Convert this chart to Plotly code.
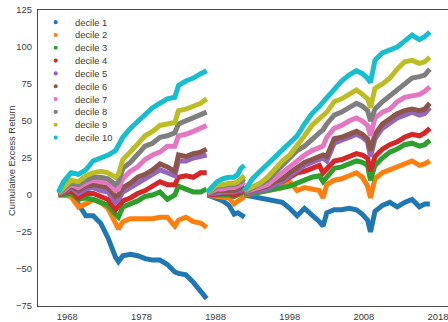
import plotly.graph_objects as go

# Three sample periods; cumulative excess return restarts at zero in each one.
years_a = [1966.8, 1967.5, 1968.5, 1969.5, 1970.5, 1971.5, 1972.5, 1973.5, 1974.5, 1974.9,
           1975.5, 1976.5, 1977.5, 1978.5, 1979.5, 1980.5, 1981.5, 1982.5, 1983.0, 1984.0,
           1985.0, 1986.0, 1986.8]
years_b = [1986.9, 1987.5, 1988.2, 1989.0, 1989.8, 1990.5, 1991.0, 1991.4, 1991.9]
years_c = [1991.9, 1993, 1994, 1995, 1996, 1997, 1998, 1999, 2000, 2001, 2002, 2002.5,
           2003, 2004, 2005, 2006, 2007, 2007.8, 2008.5, 2008.9, 2009.5, 2010.5, 2011.5,
           2012.5, 2013.5, 2014.5, 2015.5, 2016.2, 2016.9]

# (period a, period b, period c) values for each decile
decile_1 = (
    [1, 1, 0, -6, -14, -14, -19, -29, -42, -45, -41, -40, -41, -43, -44, -44, -47, -52, -53, -54, -59, -65, -70],
    [0, -1, -2, -4, -7, -13, -12, -13, -15],
    [0, -1, -2, -3, -4, -5, -9, -14, -9, -13, -18, -21, -12, -10, -10, -9, -10, -13, -17, -25,
     -11, -7, -5, -8, -5, -3, -8, -6, -6],
)
decile_2 = (
    [0, 0, -1, -8, -6, -3, -5, -9, -19, -23, -18, -16, -16, -16, -16, -15, -15, -21, -17, -15, -18, -19, -22],
    [0, -0.5, -0.5, -1, -2, -6, -4, -2, -1],
    [0, 1, 2, 3, 4, 5, 9, 3, 5, 4, 3, -2, 7, 10, 11, 13, 15, 12, 6, -2,
     11, 15, 17, 19, 21, 23, 20, 21, 23],
)
decile_3 = (
    [0, 0, 1, -3, -2, -3, -5, -7, -13, -15, -8, -6, -4, -1, 0, 2, -3, 0, 6, 4, 2, 2, 4],
    [0, 0, 0.5, 0, 0, -1, 0, 1, 2],
    [0.5, 1, 2, 3, 4, 5, 6, 8, 10, 12, 13, 9, 12, 18, 19, 21, 23, 22, 20, 10,
     20, 25, 29, 31, 34, 35, 33, 34, 37],
)
decile_4 = (
    [0, 1, 3, -2, 1, 1, -1, -3, -10, -8, -4, -2, 1, 3, 6, 9, 7, 7, 12, 13, 12, 15, 15],
    [0, 0.5, 1, 1, 1, 0, 1, 2, 4],
    [1, 2, 3, 5, 7, 9, 12, 15, 16, 18, 20, 15, 18, 23, 24, 26, 28, 27, 25, 16,
     26, 31, 34, 36, 39, 41, 40, 42, 45],
)
decile_5 = (
    [0.5, 1.5, 5, 1, 4, 5, 3, 2, -5, -3, 2, 5, 8, 11, 14, 17, 15, 13, 23, 23, 25, 26, 27],
    [0.5, 1, 2, 2, 2, 2, 3, 3, 5],
    [1, 2, 3, 4, 7, 9, 13, 17, 20, 22, 24, 25, 23, 35, 37, 39, 41, 39, 36, 26,
     38, 45, 49, 52, 54, 56, 54, 55, 59],
)
decile_6 = (
    [0.5, 2, 6, 3, 6, 7, 6, 5, -1, 0, 5, 8, 12, 14, 17, 21, 19, 16, 27, 26, 28, 29, 31],
    [0.5, 1.5, 3, 3, 3, 3, 4, 5, 6],
    [1.5, 3, 4, 6, 9, 11, 15, 19, 22, 24, 26, 27, 26, 38, 39, 41, 43, 41, 38, 30,
     41, 48, 52, 55, 57, 58, 57, 58, 62],
)
decile_7 = (
    [1, 3, 7, 5, 8, 10, 9, 8, 3, 4, 11, 16, 19, 24, 27, 29, 33, 33, 40, 41, 43, 45, 47],
    [1, 2, 4, 4, 5, 5, 6, 7, 9],
    [2, 4, 5, 7, 11, 15, 20, 24, 27, 30, 32, 33, 39, 45, 47, 50, 52, 50, 47, 40,
     52, 56, 58, 63, 66, 67, 68, 70, 73],
)
decile_8 = (
    [1, 4, 8, 7, 10, 12, 12, 11, 7, 9, 18, 22, 27, 33, 35, 39, 40, 42, 48, 50, 52, 54, 56],
    [1, 3, 6, 6, 7, 7, 8, 9, 11],
    [2, 5, 7, 10, 15, 20, 25, 30, 33, 38, 42, 44, 48, 54, 56, 59, 62, 60, 57, 50,
     58, 63, 67, 72, 76, 79, 80, 81, 85],
)
decile_9 = (
    [1.5, 5, 10, 9, 13, 15, 16, 15, 12, 14, 24, 29, 34, 40, 43, 47, 48, 49, 57, 58, 60, 62, 65],
    [1.5, 4, 7, 7, 8, 8, 9, 11, 13],
    [3, 6, 8, 12, 18, 23, 27, 33, 40, 47, 51, 53, 56, 63, 65, 68, 71, 68, 65, 59,
     72, 75, 79, 85, 90, 91, 89, 90, 93],
)
decile_10 = (
    [2, 9, 15, 14, 17, 23, 25, 27, 30, 34, 39, 45, 50, 55, 59, 62, 65, 66, 74, 77, 79, 82, 84],
    [2, 5, 9, 11, 12, 12, 14, 18, 20],
    [3, 11, 16, 21, 26, 31, 36, 40, 48, 55, 60, 63, 66, 72, 77, 81, 84, 82, 79, 76,
     91, 96, 98, 100, 104, 108, 105, 107, 110],
)

series_names = ["decile 1", "decile 2", "decile 3", "decile 4", "decile 5",
                "decile 6", "decile 7", "decile 8", "decile 9", "decile 10"]
series_values = [decile_1, decile_2, decile_3, decile_4, decile_5,
                 decile_6, decile_7, decile_8, decile_9, decile_10]
colors = ["#1f77b4", "#ff7f0e", "#2ca02c", "#d62728", "#9467bd",
          "#8c564b", "#e377c2", "#7f7f7f", "#bcbd22", "#17becf"]

y_ticks = [-75, -50, -25, 0, 25, 50, 75, 100, 125]
x_ticks = [1968, 1978, 1988, 1998, 2008, 2018]

FONT = "Liberation Sans, Arial, sans-serif"
TEXT = "#3a3a3a"

fig = go.Figure()
for name, vals, col in zip(series_names, series_values, colors):
    a, b, c = vals
    xs = years_a + [None] + years_b + [None] + years_c
    ys = a + [None] + b + [None] + c
    fig.add_trace(go.Scatter(
        x=xs, y=ys, mode="lines", name=name, showlegend=False,
        connectgaps=False,
        line=dict(color=col, width=5),
    ))

# Legend drawn in paper space: dot + label per decile
plot_l, plot_r, plot_t, plot_b = 38, 448, 10, 310
pw, ph = plot_r - plot_l, plot_b - plot_t
shapes, annotations = [], []
for i, (name, col) in enumerate(zip(series_names, colors)):
    yc = 22.3 + 13 * i
    py = (plot_b - yc) / ph
    px = (55.7 - plot_l) / pw
    rx, ry = 2.1 / pw, 2.1 / ph
    shapes.append(dict(type="circle", xref="paper", yref="paper",
                       x0=px - rx, x1=px + rx, y0=py - ry, y1=py + ry,
                       fillcolor=col, line=dict(width=0)))
    annotations.append(dict(xref="paper", yref="paper", x=(72.5 - plot_l) / pw, y=py,
                            xanchor="left", yanchor="middle", showarrow=False,
                            text=name, font=dict(family=FONT, size=9.4, color=TEXT)))

# y-axis title, rotated, left of the tick labels
annotations.append(dict(xref="paper", yref="paper", x=(12 - plot_l) / pw, y=0.49,
                        xanchor="center", yanchor="middle", showarrow=False,
                        textangle=-90, text="Cumulative Excess Return",
                        font=dict(family=FONT, size=9.4, color=TEXT)))

fig.update_layout(
    width=448, height=322,
    margin=dict(l=plot_l, r=448 - plot_r, t=plot_t, b=322 - plot_b),
    paper_bgcolor="white", plot_bgcolor="white",
    font=dict(family=FONT, size=9.4, color=TEXT),
    shapes=shapes, annotations=annotations,
    showlegend=False,
)
fig.update_xaxes(
    range=[1964.05, 2019.35], tickvals=x_ticks, ticktext=[str(t) for t in x_ticks],
    showgrid=False, zeroline=False, ticklabeloverflow="allow",
    showline=True, linecolor="#4a4a4a", linewidth=1.3, mirror=True,
    ticks="outside", ticklen=2, tickcolor="rgba(0,0,0,0)",
)
fig.update_yaxes(
    range=[-75, 125], tickvals=y_ticks,
    showgrid=False, zeroline=False,
    showline=True, linecolor="#4a4a4a", linewidth=1.3, mirror=False,
    ticks="outside", ticklen=3, tickcolor="rgba(0,0,0,0)",
)

fig.write_html("out.html")
